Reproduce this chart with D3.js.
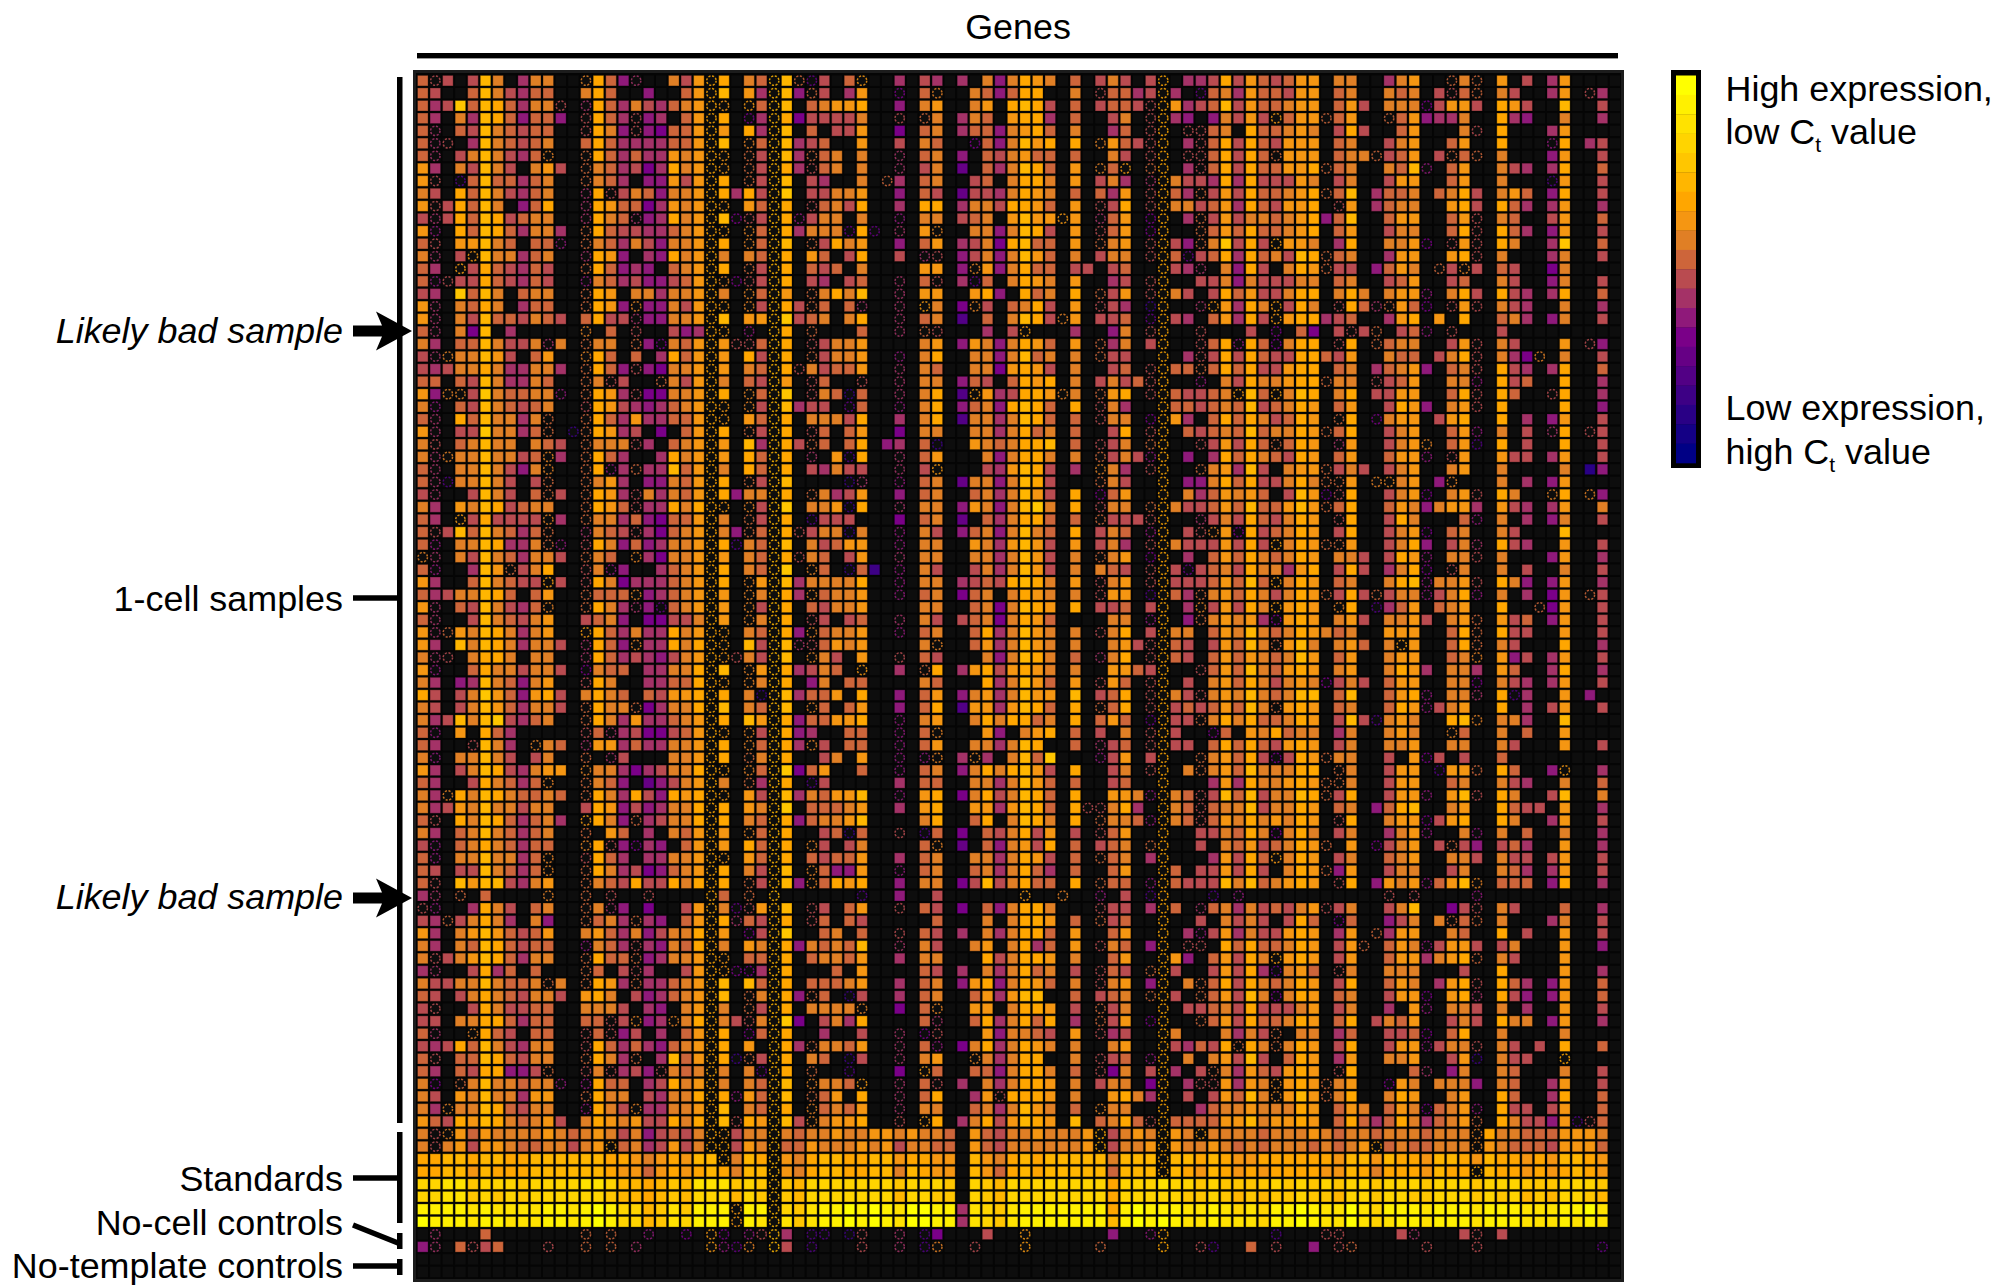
<!DOCTYPE html>
<html>
<head>
<meta charset="utf-8">
<script src="https://cdn.jsdelivr.net/npm/d3@7"></script>
<style>
    body { margin: 0; background: #fff; }
    text { font-family: "Liberation Sans", Arial, sans-serif; font-size: 35.9px; fill: #000; }
</style>
</head>
<body>
<svg id="chart" width="2000" height="1288"></svg>
<script>
// a-t = Ct bin, a is lowest Ct (yellow), t is highest (navy)
// lowercase = called value, uppercase = failed call (ring), . = no signal
const ctBins = "abcdefghijklmnopqrst".split("");
const ctColors = ["#ffff00", "#fff000", "#ffe200", "#ffd400", "#ffc600", "#ffb600", "#ffa600", "#f59612",
    "#e07f25", "#cd653a", "#b94b50", "#a43267", "#8f197a", "#7a0088", "#660085", "#520085",
    "#3d0085", "#290085", "#140085", "#000085"];

const sampleRows = [
    "jKk.kfi. lii..Igj mL..ikhG g.ijFfJO k.jH..l. kl.l.imi ghi.j.ki k.kG.llk gkhjkjhh .ii..lih ..JiJ.h. k.lh....",
    "jk..jfik ljj..igj ..m..jhG f.hlFfmJ k.lh..N. jI..ijmj gg..i.Kj jlkGl.Oj ilhjjkhh .ji..iji .kKjJ.ik ..lh.Kl.",
    "jlkejfgj liiK.Lgj likljihG H.HjFf.j ihhg..m. ih..ih.g fgk.j.kj jkKGhlkj fkhjjihh .jhk.iii Nkhhk.gh k..f..k.",
    "jl.ilfgj mjjm.Kgj lKml.jhG g.NlFgnk kkki..K. Ji.lij.h ggl.j..k i.KGlm.m ikhkHjhh Jjh..Jjh mlli..gl m..i..l.",
    "jL.jkfij kjj..Kgi mKmnjjhG h.glFf.j .kkh..n. ji.ljjmi hgj.i..l j.KG.KKj i.gjjihi .kgk..jh ...iK.g. ..lh....",
    "jLK.lfij kji..jgj lllljjhG f.IjFflk j..h..k. ij..Njmi fhg.g.Ih jkKG.lKj gkgjkhhh .ji..kih ..jh..g. ..Mg.lk.",
    "jL.kifik ljI..Jgj ljllhihG H.JkFflJ ji.i..L. ji.m.jki hjj.j..i k.KG.KKj gkgjJhhh .jiiJkjh .kJjJ.i. ..mh..k.",
    "hl.ikfik .ihk.Jij lknlgihG H.JkFglK ji.i..L. ki.o.jli fgj.h.Ij H.JG.lKj gkgjjhhg Jji..ijf M.jh..ik l.lg..j.",
    "hK.Pjfjj lji..Jij l.mmhkhG g.JkFf.k l..i.Jl. ji..kj.i ggi.h.ki l.LGikkl glgkkkhi .ki..khh ..jh..i. ..Ph..k.",
    "ik.gjfik lji..LgK kijmiihG glgkFe.k kiih..m. jk.okkli ghi.j.jl h.KGjlJk hkgjjihg Jjf.ljji .jigk.ih j.mg..k.",
    "hKkgjfi. mjg..Lgh jjnlhihG H.hjFg.K jikg..l. gg.liikg ghj.h.Kk g.KGiikj hlgjkhhg .Kh.ljii ..hgk.gj l.lh..l.",
    "kLkgjfgk jii..Lgi jLmlgihG fNKkFgMk ii.i..M. ii.kji.h fhhHh.Lj h.NG.lJk hkiijihg mjf..jhh ..jhK.ij ..kh..j.",
    "hM.gjfgj liil.Jgj kklljihG H.IjFgli iiOgO.L. hI..iimi fgk.h.Kj h.NG..Jj hjgjjihg .jh..kii ..jgK.gj l.mh..k.",
    "jK.hhfij .jjM.Jij likmiihG g.IjFf.J kgih..m. jh.lking fjj.h.Ji h.KGkmJi ekgkHhhi .lg..iih N.KhK.gi ..le..j.",
    "iL.kHfii lji..Lgh m.lmgihG i.ijFg.h j.kg..k. LK.mkimi fhj.i.ki i.KGjOkj glgjikfg Jji..lhh ..hgK.i. ..li..k.",
    "jl.Hkgjk ljk..Jgj mlm.jihG g.JkFg.j kj.i.... hh.mIhmi gjj.kk.k j..GklL. imgk.igh Jkk.mjhi .JkIk.jk ..ni....",
    "jMKkkgjk ljk..Mij lkmmkjhG INKkFg.k l.kj..L. jK.lOj.i ghi.h..l k.KG..kk imikkkii .ji..kjh ..kj..ik ..mi..k.",
    "kl.ejfi. jii..Jgh .iiliihG i.IjFh.J igif..L. hh..hgm. gji.g.Jk h.KGik.k gjhkkigg .igi.ihh M.igk.gk l.lg..j.",
    "hL.ijgi. ljj..Jgh mImmikhG H.IkFgkJ j.jL..L. Hi.nIk.j igk.h.Kk l.QG..LH hlgiHkgi .KgjLJhj N.KhK.ik l..i..l.",
    "hL.ikfjj kijk.jgk kLmmiihG f.hhFekj i.ig..L. ji.p.j.i fgkIh.kk j.OGkl.j hlgkHhgg lkj..lhg .h.g..ji l.mi..k.",
    "jL.inf.l .....I.j .K..kmlG H.M.Fg.J ...j..L. JK...l.k H...l..m i.KG..K. ..k.N.jn .kKkJ.kj M.K...k. ........",
    "il.jjfik kiLi.Jii .JmNijhG hKKjFg.K kiih.... ih.mhimi ghj.h.Jl i.kG..Kj gMgjNigg .Kg.Jjii ..khK.ik ...h.Km.",
    "kLIiifhk .jh..Igj .j.lgjhG h.gkFg.J kiih..M. ig..iimi fji.i.Jk k..G.lKk gkgjkkgg jkh..ijj .kigK.il nI.i..k.",
    "klkiigil liil.Jgj mKmniihG h.ijFgKi kjjh..L. ij..iinh ghk.i..k j.KGjjJj gjgkkhgg .ji.ljih m.jiK.gk l.lg..j.",
    "jj.jkfil lij..JiK k..JikhG i.jkFh.K j..K..L. ii.mjk.j ghg.i.ki kjKG..M. ikgiihgg Jii.Kkjh ..iiM.gk j..g..l.",
    "hmIIkeij jiiM.Jgh lKnniihG g.IjFe.K ijQj..L. ig.pHhlk gghIi.Jh g.KGjkkj iHfjHifg .ig.kkhh ..jgK.gj ..Kg..l.",
    "iM.jkfij kji..Kgh klmljihG H.IkFflk k.Oj..M. ig.mjimg fgj.g.Ki l..Gjjkj ijfkjigh .jh..kgh m.ihK.g. ...g..m.",
    "jL.gjfii liJ..Jgj lhlljjhG H.hjFg.i iikg..l. ig.piili fgj.j.Ki i.NGhl.j gjgikjgh .Jg.Nihh .khg..g. l.mh..k.",
    "hL.kkeii ljJ.QJgh lk.n.jhG g.JkFg.K j.jh..n. ii..iili gji.j..k g.KG.jkj ijfjiigh Jjg..kih ..jhM.i. k.Lg.Kk.",
    "iK.jifii .ijk.Jii iKl.jihG h.flFgkJ j.jg.ml. jQ..hiji ggf.j.Kk i.JG..Kk hkgjJjgh .Lh..kih I.jhP.g. k..g..k.",
    "iLIiifii kjIl.Jgj l..lgihG h.gjFg.L .hPg..L. jh...imi ggi.i.Jk ikMG.m.l gjgijkgh .jh..jhh M.Kh..hk k.lh..k.",
    "jL.iifik miI..JgM lJllfjhG i.gjFg.k likk..L. kH...klh fgk.l.Ii l.KG..Ji hlfk.ihh Jkik.kih ..ih..i. ...i.rm.",
    "jLPiifik .kJ..Jih l.mmijhG g.JkFf.. ..QL..M. ji.oiimi fgk...Ji k..G.mmi gjgkkigi JJh.IIih .mI...i. l.mh....",
    "kL..kfik .jJk.Jgh lKilijhG gmiiFg.J ilkh..m. ji..jili fhk.g.Nj h..G.ilj hihj.kfh OKg..kih N.ihK.gi ..Ig.Im.",
    "il.hifgk jii..Jgh jKllgigG H.IkFe.i ihQg..L. ii.mhimi fei.g.Ki i.JGikkj hjfjjhfh Jjg..jhi mihhl.hk l.lh..i.",
    "jl.Hkgkk kkIl.Jii ljmnjjhG i.JkFg.P kkk...n. ji.o.jli ggj.j.Jk kkKG..Lk ikgjkigh .Kg..kgi ...jM.i. l.mi..k.",
    "jKkfjfij ljJ..Lij kKlnjihG imJjFgKk iiQi..M. ik.mjimi fij.g.ki j.MG.kKI hNgkjigh .kg..kih N.ji..ik ...f....",
    "jM.iifgl liJM.Kgi mjmliihG gPijFf.i kjhh..M. ii..hilh fhk.h.ki l.KGikkk hkgkHigh JJh..kig m.kiL.gk l..h..k.",
    "IL.ikfij liik.Jij .IlniihG h.ijFgKi j.kh..L. ii..iili fhk.i.Ji h.NG.l.j hjgijigh .iik.kgh M.iiK.i. ..mh..l.",
    "jM..lfhJ kig..KiM m..ljihG g.ijFe.I j.Qjq.M. ik..kili fhk.i.ij k.KGkOkj ikgiilhg .kgk.lig N.Ki..i. k..i..k.",
    "hl..jfij kkHk.Kgi nllljihG g.IhFfli iiig..M. ii.lkjkg fgi.h.Ki h.KGkkkj hjfjHigh .ji..igf MiihK.gi m.mh..l.",
    "jlkiifgj .jh..Jjj jImljihG h.IiFglI jiih..M. ji.nji.i ghi.i.Kh h.PGjlJi hjgikigh JkgkJkii MkigM.i. l.nh.Jk.",
    "hL.jkfik ljI..Jgi lLmOjihG h.IkFg.j kiih.... ii..jini fgh.g.kk j.kG.lIk hkgiHhgh .Ig.Pljh .jih..g. .Jnh..k.",
    "jL..kfij kih..kji m.nnkkiG h.IiFg.K k.kj..L. ik.kjini ghj....i i.MG.mJi hihlNhgh .ihk.iih k.ihJ.hk j.mh..k.",
    "hLJhifgi lih..Hgj lillgihG H.ijFgmI jiih..M. ji..jgli fhi.i.Ki g.kGii.j hifijigh iji..hhh ..jgJ.gk k..h..k.",
    "hl.fifgi liik.Lgj mIllgigG H.fkFfLK jhih.... iI..jhli fhi.i..i hkKGjk.k hjfiJhfi .ihj.iHh ..jgJ.ik ...g..l.",
    "iLK.iggi .ii..Lgj lklmkihG HKikFf.I ik.h..K. jk...imi fgi.j.Li g.KGjk.j hjhijifh .jh..ihh ..jiI.hm k.lh..k.",
    "hM..jgii kiik.Nij j.lliigG f.IhFglk ij.H..l. Jg.lhgkh ghi.i..h hjkG..Kj hjfijhgh .ih..igh l.iil.hj ..lg..l.",
    "il.mlfij mih..Kgi ..lljjgG H.IiFg.m i.jj.... ij...gli fhj.h.Kh j.KG.k.i hjgikihi Nkik.jhh ..iiN.ik l.lh..k.",
    "gk.kiehj mhgk.igi j.jkhhgG g.iQFflj jh.g..m. jh.mihli fhh.f.kj g.KGikKi hifijiff .jf..jhg M.iiL.gP l..h.m..",
    "ik.kifhj liik.Jgi iJnliigG f.ijFf.I j.jh..m. jg.phhlh fgj.g.Jj g.KGkjkj hjfiJhgh .ji..jgh Mkih..g. l.kh..k.",
    "ilkfifek lji..Jgi lhlljihG g.fhFgmj jhhg..M. ih..igig gji.g.jh j.OGkkJi gigjjigh .kfkPihi ..gfI.ii l..f....",
    "jM.h.gjl .....KjL lknnkjhG H.IkFgml ..jj..M. jI...hm. ihg.j.k. i.KGk..N j.higjii .li..ihi ..Ij..i. j..h....",
    "jl..Kfil .Iij.Lhh ljlliihG g.IjFglI k.jj..M. jh..iili fg..j.Lk j.KGkk.j gjgjkhgh .ki..iih ..ii..ik ...h..k.",
    "iM.iifik .ki..J.L k...iihG g.JiFg.. ki.h..M. MI.lIl.i fje...Mk h.kG..Ji hjgkNkgh Jii..k.h Nk.k..j. ........",
    "hl.kifgk lihh.Iii lnlkiigG H.IjFenj h..j..M. ji.migig fhk.g..k i.KG.iJi hjfiiigg .Ji..khh .PhhJ.gj ..mH..l.",
    "jl..kgij ljI..Jij m.omkihG i.JlFg.P k.....l. jj..iili fhj.j..k j..G...l hlgiihgh JJi..khh ..ji..ik l..i..j.",
    "ilIgifgi jjij.Jgi lgkmghgG H.hkFfli jhhf..M. hg.nigki fgj.g..h hiMGijKk fjfkiifg Jkg..khh M.hfK.gi ..kf..i.",
    "ilkhifii kii..kgh mkmliigG g.hiFe.j jjih..l. hg..hhlh fgj.gKKi gl.GijKj iifkiigh .ji.mjgf ..ih..gj kk.h..l.",
    "jK.gifgj ljil.Hgi mJlkiigG g.ijFgmj iihf.... ig..jg.i fgi.g.Ji ijMGijKj higihigh .Kg..ihh Nkhg..gi ..lh..k.",
    "il.jifij lji..J.h j.l.ijhG h.IjFg.. kjQj..K. Pj.n.jki gkh.k.Kj h..G..kk ijgiNigi .ki..lih M..iM.i. j..i..l.",
    "kM.jigij ljj..IgK mNlm.jhG h.gjFg.I k.ki.... jI.o.jmi hkg.j.kj i.JG..k. ijhkjigh J.h.Nkih .kJkm.kj l..h..l.",
    "jM.iifii ljI..Kgj l.lliihG H.hjFg.j kjjh..l. ji..iili ghk.j.Jj i.lG...l hkgjHigh .ki..jih ..iik.ik k.kh..k.",
    "jk.kkfij ljI..Jgi lknmjihG g.ikFf.I jmmh..M. ji..jili gjl.j..j h..Gj.kk hkgk.igh Jmh..kii ..ki..ij l.lh..k.",
    "jK.fhffk lih..Jij kgkkgigG g.JkFfmI jghg..m. ii.nkfki gjj.g.Jj j.MGjkkk fifjihgh .Kg.mhih MjhfI.jj j.mg..l.",
    "lL.J.j.. ..I..J.K ..K....G j.J.F... ...P..m. .k...... H..I..M. k.PG...P .M...... .....K.K ....M... ........",
    "KM..lgik .ji..JiL m.n..khG iOKhFf.K k.jh..K. jk.n.jmi ggi...Kk k.lGj.Lj ilikjkih Kki..kif ..nkK.ik ...j..l.",
    "klJkigil .im..Jji lJlm.jhG gLjkFg.K j.jk.... .j...i.i ggh.j.Jk j..G..k. ikik.kgj .Nj..mki .iJjJ.i. ..li..k.",
    "hl.ihfhj kjh..ihj limkiigG h.NkFe.. ji.j..K. jk.l.ili ggj.h..j h..G.lMk hlikkhgh .lh.Jlhh ..ij..g. k..h..k.",
    "il.ijfgj kjj..Mij lKlmijgG i.hiFgmi jijf..L. ik..ih.i glj.h.Ki j.mG.KK. gjgjjigh .khJ.jhi Mkhhk.ki ...h..m.",
    "iKkihfgj lii..Jgj jJmliihG H.jjFg.j iijh..l. ii...gki ggh.i..j h..Ghm.j hkgiHhgh .kh..jhh lihgJ.ik ...h....",
    "lL..kglj .j...Jj. kKl..khG HNNlFg.. .j.h.... jk.l.ili gji.k.Kj k.JGk..k hkglOihj .Ki..iii ...k..g. ...h..l.",
    "ikkiifij jiJi.Jgh lJlljihG f.fjFg.j jjih..l. ji.mhgmi ghj.i.Ki h.mG.iJj gkgijigh .kg..jhi .lhgK.gj l.mh..j.",
    "jk.kigij kiik.hgi .kmljihG f.JiFgmJ j.Qk..l. ji..jhlh ff..j.kj i.JGk.Jj hkfiNigh .ji..khh N.hgL.gk m.mh..j.",
    "kK..kgik kjj..iii k.lm.ihG i.JkFg.i iiiI..n. jI..hh.i ggh.k.Jk i..G.kkj ikgkkkih .ki..l.h M.iik.i. l..h..k.",
    "kk.iiggj ljj..jjK kImlIigG ikKiFen. kilg.... jL..jgli gjg.l.Jk h.NG..Jj hkgjjigh .jg.kijh ..kik.gi i.mh..l.",
    "jL..Igjk .jj..KjK mk.l.jhG g.NjFg.. l..k..L. NK...hmi ijk.h.Kl k..Gi... ilikJ.ii .lj..kkj N.jg..i. ...i....",
    "klkgjfik lii..Kgj ljlmjihG g.h.FglJ iijh..L. jM.nigli ghi.i..i h..Gkljk gJgiJigh .kg..khh MkiiK.ik .k.g..j.",
    "jK.jjfgj kii..Jgi lJ.lfjhG gQJkFg.i j.Qk..L. ih..Iili gg..i.Kk j.MG.i.i hkfk.jgh .lh..iih ..khQ.ik k..G....",
    "jl.jkggm mkJ..KiK lkmKijiG i.iOFg.J ..P...n. Hj..jjmi ggi.j.Kn i.kGl.kJ ilhjkhgh .Kg....j L.mi..ij ...i..k.",
    "iN.Jifii jiiM.Mgj j.lkgihG i.ijFf.I iijH..L. jK.l.ili ggh.i.ki i.nG.lKK hlhiIhgh Jih..Nhi .iiim.ij ..lh..k.",
    "ik.hifii lhh..Jgi i.kliigG gMhjFf.J jh.g..L. jg..lhKg ggh.i..h gilG.k.k hjfiIhfh Jig..igh ..ih..gj ..lg..j.",
    "ilIiifgj kii..Mgi kIlliihG f.ijFg.I jijh..L. ii..jili fhi.j.Ii i..G..lj iihiiigh .jhi.jhi NjihM.gk k.kh..j.",
    "hjkghfgi jihk.igh ihkkgigG fKghFfkI ihhg..K. Hg.ligkh fgh.f.ji gjKGjjjj hhfihhgh .jgjljgi ljihJ.gi kkmhPKj."
];

const standardRows = [
    "iKIhjhii iihijihi kimkjkiG HkiiFiji ihiihhih iij.hjki ihiiihGk ihiGhiHi iiijiiih ijiijiii jiiiIgii jjjhhhi.",
    "iKihkhhi jjiikihH jilkhkiG GkhiFjjh iiihihki ijj.hjki iiiiihGk iihGhiih ijijiiij ijihHjij jiiiIhij jjkhhhj.",
    "ggffgffg gffffffg ghihghff GifgFhig ffggffhg ghh.fhig fgfffffi fffGffgf ghhggggg ghffhfgg hffghfgg hghffgh.",
    "ggffhfgg gffffffg hhjhghgf giffFhig ffggffif ghh.fhjg fgfffffj fffGfghf ghghgggg hhfgiggg hfggGfgg hghgfgh.",
    "ddcceddd eddddccd ffgfefcc cedeFefd dddddded dde.defd dddddddg dddcdded eeeedede deddeddd edddeddd eeeddde.",
    "ddcceded edddddde ffgfefdd dfdeFefd ddddddfd dee.defd dddddddg dddddeed efefeede efddedde edddeded fefddef.",
    "bbbbcbcc ccbbcbab ddfecebb bHbbFdec bbababca abblcdec bbbbbbbg babbbccb cdcdbbab ccacdbbb cbbbcbbb cccbbac.",
    "abbbcbbc ccbbcbab ddfecdbb bHbcFcec bbababca abblcdec bbbbbbbf bababccb cccdbbab ccacdcbb cbbbcbbb cccbcbc."
];

const noCellRows = [
    ".L...j.. .....J.J ..M..N.H N.MKFl.P P.QK..L. Pn...k.. H......m ..MG.... ....P... KK....kL ...kK.k. ........",
    "mL.jKkj. ..K..J.J .L.....H MOI.Fk.P ...K..L. PI..K... H.....J. ...G..KP ..j.K..m .KJ..... K...K... ......O."
];

const noTemplateRows = [
    "........ ........ ........ ........ ........ ........ ........ ........ ........ ........ ........ ........",
    "........ ........ ........ ........ ........ ........ ........ ........ ........ ........ ........ ........"
];

const rowStrings = [...sampleRows, ...standardRows, ...noCellRows, ...noTemplateRows]
    .map(row => row.replace(/ /g, ""));

const cells = rowStrings.flatMap((row, rowIndex) =>
    row.split("").map((code, colIndex) => ({ rowIndex, colIndex, code })));

const svg = d3.select("#chart");

const x = d3.scaleBand().domain(d3.range(96)).range([416.5, 1621.3]).paddingInner(0.16).paddingOuter(0.08);
const y = d3.scaleBand().domain(d3.range(96)).range([74.4, 1278.2]).paddingInner(0.16).paddingOuter(0.08);
const color = d3.scaleOrdinal().domain(ctBins).range(ctColors);

svg.append("rect")
    .attr("x", 414.5).attr("y", 71.5).attr("width", 1208).attr("height", 1209)
    .attr("fill", "#050505").attr("stroke", "#1c1c1c").attr("stroke-width", 3);

const filled = d => d.code >= "a" && d.code <= "t";
const failed = d => d.code >= "A" && d.code <= "T";

svg.append("g").selectAll("rect")
    .data(cells.filter(d => !filled(d)))
    .join("rect")
    .attr("x", d => x(d.colIndex))
    .attr("y", d => y(d.rowIndex))
    .attr("width", x.bandwidth())
    .attr("height", y.bandwidth())
    .attr("fill", "#0d0d0d");

svg.append("g").selectAll("rect")
    .data(cells.filter(filled))
    .join("rect")
    .attr("x", d => x(d.colIndex))
    .attr("y", d => y(d.rowIndex))
    .attr("width", x.bandwidth())
    .attr("height", y.bandwidth())
    .attr("fill", d => color(d.code))
    .attr("stroke", "#000")
    .attr("stroke-opacity", 0.3)
    .attr("stroke-width", 1);

svg.append("g").selectAll("circle")
    .data(cells.filter(failed))
    .join("circle")
    .attr("cx", d => x(d.colIndex) + x.bandwidth() / 2)
    .attr("cy", d => y(d.rowIndex) + y.bandwidth() / 2)
    .attr("r", 4.7)
    .attr("fill", "none")
    .attr("stroke", d => color(d.code.toLowerCase()))
    .attr("stroke-opacity", 0.85)
    .attr("stroke-width", 1.5)
    .attr("stroke-dasharray", "2.1 1.6");

// colour key
const keyY = d3.scaleBand().domain(ctBins).range([75.5, 463]);
svg.append("rect")
    .attr("x", 1671).attr("y", 70).attr("width", 30).attr("height", 398)
    .attr("fill", "#000");
svg.append("g").selectAll("rect")
    .data(ctBins)
    .join("rect")
    .attr("x", 1676)
    .attr("y", d => keyY(d))
    .attr("width", 20)
    .attr("height", keyY.bandwidth() + 0.3)
    .attr("fill", d => color(d));

function ctLabel(prefix, lineY) {
    const label = svg.append("text").attr("x", 1725.5).attr("y", lineY);
    label.append("tspan").text(prefix + " C");
    label.append("tspan").attr("dy", 8).style("font-size", "21px").text("t");
    label.append("tspan").attr("dy", -8).text(" value");
}
svg.append("text").attr("x", 1725.5).attr("y", 101).text("High expression,");
ctLabel("low", 144);
svg.append("text").attr("x", 1725.5).attr("y", 420).text("Low expression,");
ctLabel("high", 464);

// annotations
svg.append("text").attr("x", 1018).attr("y", 39).attr("text-anchor", "middle").text("Genes");
svg.append("rect").attr("x", 417).attr("y", 53).attr("width", 1201).attr("height", 5.4);

const brackets = [[77, 1123], [1132, 1223], [1233, 1249], [1259, 1275]];
svg.append("g").selectAll("rect")
    .data(brackets)
    .join("rect")
    .attr("x", 397)
    .attr("y", d => d[0])
    .attr("width", 5.5)
    .attr("height", d => d[1] - d[0]);

const ticks = [[353, 598, 397, 598], [353, 1178, 397, 1178], [353, 1225, 398, 1243], [353, 1266, 397, 1266]];
svg.append("g").selectAll("line")
    .data(ticks)
    .join("line")
    .attr("x1", d => d[0]).attr("y1", d => d[1])
    .attr("x2", d => d[2]).attr("y2", d => d[3])
    .attr("stroke", "#000").attr("stroke-width", 5.5);

const labels = [["1-cell samples", 611], ["Standards", 1191], ["No-cell controls", 1234.5], ["No-template controls", 1277.5]];
svg.append("g").selectAll("text")
    .data(labels)
    .join("text")
    .attr("x", 343)
    .attr("y", d => d[1])
    .attr("text-anchor", "end")
    .text(d => d[0]);

const badSamples = [331, 898];
const badSampleBaselines = [342.5, 908.5];
svg.append("g").selectAll("text")
    .data(badSampleBaselines)
    .join("text")
    .attr("x", 343)
    .attr("y", d => d)
    .attr("text-anchor", "end")
    .style("font-style", "italic")
    .text("Likely bad sample");

svg.append("g").selectAll("path")
    .data(badSamples)
    .join("path")
    .attr("d", d => `M353,${d - 5.5} H382 L376,${d - 19.5} L412,${d} L376,${d + 19.5} L382,${d + 5.5} H353 Z`);
</script>
</body>
</html>
